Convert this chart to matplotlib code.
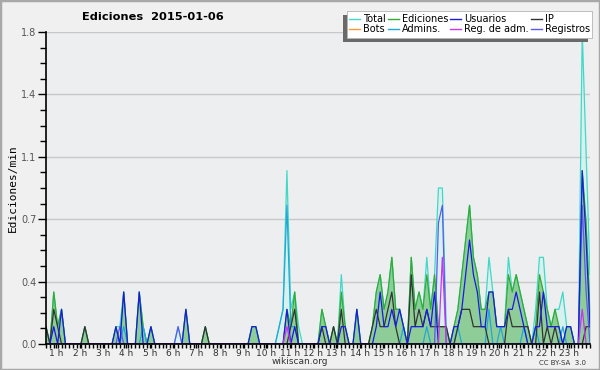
import numpy as np
import matplotlib
matplotlib.use("Agg")
import matplotlib.pyplot as plt
from matplotlib.patches import Rectangle


# DATA (edits per minute, 10-minute bins, first bin ~00:33)

t_start = 0.55
step_h = 1 / 6

total = [0.1, 0, 0.3, 0.1, 0.2, 0, 0, 0, 0, 0,
         0.1, 0, 0, 0, 0, 0, 0, 0, 0.1, 0.1,
         0.3, 0, 0, 0, 0.3, 0.1, 0, 0.1, 0, 0,
         0, 0, 0, 0, 0.1, 0, 0.2, 0, 0, 0,
         0, 0.1, 0, 0, 0, 0, 0, 0, 0, 0,
         0, 0, 0, 0.1, 0.1, 0, 0, 0, 0, 0,
         0.1, 0.2, 1.0, 0.2, 0.3, 0.1, 0, 0, 0, 0,
         0, 0.2, 0.1, 0, 0.1, 0, 0.4, 0.1, 0, 0,
         0.2, 0, 0, 0, 0.1, 0.3, 0.4, 0.2, 0.3, 0.5,
         0.2, 0.2, 0.1, 0, 0.5, 0.2, 0.3, 0.2, 0.5, 0.2,
         0.4, 0.9, 0.9, 0.1, 0, 0.1, 0.2, 0.4, 0.6, 0.8,
         0.5, 0.4, 0.2, 0.2, 0.5, 0.3, 0.1, 0.1, 0.1, 0.5,
         0.3, 0.4, 0.3, 0.2, 0.1, 0, 0.2, 0.5, 0.5, 0.2,
         0.1, 0.2, 0.2, 0.3, 0.1, 0.1, 0, 0, 1.8, 1.1,
         0.4]

ediciones = [0.1, 0, 0.3, 0.1, 0.2, 0, 0, 0, 0, 0,
             0.1, 0, 0, 0, 0, 0, 0, 0, 0.1, 0,
             0.3, 0, 0, 0, 0.3, 0.1, 0, 0.1, 0, 0,
             0, 0, 0, 0, 0, 0, 0.2, 0, 0, 0,
             0, 0.1, 0, 0, 0, 0, 0, 0, 0, 0,
             0, 0, 0, 0.1, 0.1, 0, 0, 0, 0, 0,
             0, 0, 0.2, 0.1, 0.3, 0, 0, 0, 0, 0,
             0, 0.2, 0.1, 0, 0.1, 0, 0.3, 0.1, 0, 0,
             0.2, 0, 0, 0, 0.1, 0.3, 0.4, 0.2, 0.3, 0.5,
             0.2, 0.2, 0.1, 0, 0.5, 0.2, 0.3, 0.2, 0.4, 0.2,
             0.4, 0.1, 0.1, 0.1, 0, 0.1, 0.2, 0.4, 0.6, 0.8,
             0.5, 0.4, 0.2, 0.2, 0.3, 0.3, 0.1, 0.1, 0.1, 0.4,
             0.3, 0.4, 0.3, 0.2, 0.1, 0, 0.1, 0.4, 0.3, 0.2,
             0.1, 0.2, 0.1, 0, 0.1, 0.1, 0, 0, 1.0, 0.7,
             0.2]

usuarios = [0, 0, 0.1, 0, 0.2, 0, 0, 0, 0, 0,
            0, 0, 0, 0, 0, 0, 0, 0, 0.1, 0,
            0.3, 0, 0, 0, 0.3, 0, 0, 0.1, 0, 0,
            0, 0, 0, 0, 0, 0, 0.2, 0, 0, 0,
            0, 0, 0, 0, 0, 0, 0, 0, 0, 0,
            0, 0, 0, 0.1, 0.1, 0, 0, 0, 0, 0,
            0, 0, 0.2, 0, 0.1, 0, 0, 0, 0, 0,
            0, 0.1, 0.1, 0, 0, 0, 0.1, 0.1, 0, 0,
            0.2, 0, 0, 0, 0, 0.1, 0.3, 0.1, 0.1, 0.2,
            0.1, 0.2, 0.1, 0, 0.1, 0.1, 0.1, 0.1, 0.2, 0.1,
            0.3, 0, 0, 0, 0, 0.1, 0.1, 0.2, 0.4, 0.6,
            0.4, 0.3, 0.1, 0.1, 0.3, 0.3, 0.1, 0.1, 0.1, 0.2,
            0.2, 0.3, 0.2, 0.1, 0, 0, 0.1, 0.1, 0.3, 0.1,
            0.1, 0.1, 0.1, 0, 0.1, 0.1, 0, 0, 1.0, 0.6,
            0.1]

ip = [0.1, 0, 0.2, 0.1, 0, 0, 0, 0, 0, 0,
      0.1, 0, 0, 0, 0, 0, 0, 0, 0, 0,
      0, 0, 0, 0, 0, 0, 0, 0, 0, 0,
      0, 0, 0, 0, 0, 0, 0, 0, 0, 0,
      0, 0.1, 0, 0, 0, 0, 0, 0, 0, 0,
      0, 0, 0, 0, 0, 0, 0, 0, 0, 0,
      0, 0, 0, 0.1, 0.2, 0, 0, 0, 0, 0,
      0, 0.1, 0, 0, 0.1, 0, 0.2, 0, 0, 0,
      0, 0, 0, 0, 0.1, 0.2, 0.1, 0.1, 0.2, 0.3,
      0.1, 0, 0, 0, 0.4, 0.1, 0.2, 0.1, 0.2, 0.1,
      0.1, 0.1, 0.1, 0.1, 0, 0, 0.1, 0.2, 0.2, 0.2,
      0.1, 0.1, 0.1, 0.1, 0, 0, 0, 0, 0, 0.2,
      0.1, 0.1, 0.1, 0.1, 0.1, 0, 0, 0.3, 0, 0.1,
      0, 0.1, 0, 0, 0, 0, 0, 0, 0, 0.1,
      0.1]

admins = [0, 0, 0, 0, 0, 0, 0, 0, 0, 0,
          0, 0, 0, 0, 0, 0, 0, 0, 0, 0,
          0.1, 0, 0, 0, 0, 0.1, 0, 0, 0, 0,
          0, 0, 0, 0, 0, 0, 0, 0, 0, 0,
          0, 0, 0, 0, 0, 0, 0, 0, 0, 0,
          0, 0, 0, 0, 0, 0, 0, 0, 0, 0,
          0.1, 0.2, 0.8, 0.1, 0.1, 0, 0, 0, 0, 0,
          0, 0, 0, 0, 0, 0, 0, 0, 0, 0,
          0, 0, 0, 0, 0, 0, 0, 0, 0, 0,
          0, 0, 0.1, 0, 0, 0, 0, 0, 0.1, 0,
          0, 0, 0, 0, 0, 0, 0.1, 0, 0, 0,
          0, 0, 0, 0, 0.2, 0, 0, 0.1, 0, 0,
          0, 0, 0, 0.1, 0, 0, 0.1, 0, 0, 0,
          0, 0, 0, 0.1, 0, 0, 0, 0, 0, 0,
          0]

registros = [0, 0, 0, 0, 0, 0, 0, 0, 0, 0,
             0, 0, 0, 0, 0, 0, 0, 0, 0, 0.1,
             0, 0, 0, 0, 0, 0, 0, 0, 0, 0,
             0, 0, 0, 0, 0.1, 0, 0, 0, 0, 0,
             0, 0, 0, 0, 0, 0, 0, 0, 0, 0,
             0, 0, 0, 0, 0, 0, 0, 0, 0, 0,
             0, 0, 0, 0, 0, 0, 0, 0, 0, 0,
             0, 0, 0, 0, 0, 0, 0, 0, 0, 0,
             0, 0, 0, 0, 0, 0, 0, 0, 0, 0,
             0, 0, 0, 0, 0, 0, 0, 0, 0, 0,
             0, 0.7, 0.8, 0, 0, 0, 0, 0, 0, 0,
             0, 0, 0, 0, 0, 0, 0, 0, 0, 0,
             0, 0, 0, 0, 0, 0, 0, 0, 0, 0,
             0, 0, 0, 0, 0, 0, 0, 0, 0.8, 0.3,
             0]

reg_adm = [0] * 62 + [0.1] + [0] * 39 + [0.5] + [0] * 35 + [0.2] + [0] * 2
bots = [0] * 141

hour_labels = [f"{h} h" for h in range(1, 24)]

t = t_start + step_h * np.arange(len(total))

# PLOT

plt.rcParams['font.family'] = ['DejaVu Sans']

fig = plt.figure(figsize=(6, 3.7), dpi=100, facecolor='#f0f0f0')
fig.patches.append(Rectangle((0, 0), 1, 1, transform=fig.transFigure,
                             fill=False, edgecolor='#a8a8a8', linewidth=2.5))

ax = fig.add_axes([46/600, 26/370, 544/600, 312/370])
ax.set_facecolor('#edeef0')

lw = 0.9
ax.fill_between(t, total, color='#d4f2ee', alpha=0.8, lw=0)
ax.plot(t, total, color='#40d8c8', lw=lw, label='Total')
ax.fill_between(t, ediciones, color='#5fb55f', alpha=0.6, lw=0)
ax.plot(t, ediciones, color='#33aa33', lw=lw, label='Ediciones')
ax.plot(t, admins, color='#1fa8d8', lw=lw, label='Admins.')
ax.plot(t, ip, color='#333333', lw=lw, label='IP')
ax.plot(t, registros, color='#5a5af0', lw=lw, label='Registros')
ax.plot(t, usuarios, color='#1a1ae0', lw=lw, label='Usuarios')
ax.plot(t, reg_adm, color='#cc33ee', lw=lw, label='Reg. de adm.')
ax.plot(t, bots, color='#ff9933', lw=0, label='Bots')

ax.set_xlim(t[0], t[-1])
ax.set_ylim(0, 1.8)

yt = [0, 0.36, 0.72, 1.08, 1.44, 1.8]
ax.set_yticks(yt)
ax.set_yticklabels(['0.0', '0.4', '0.7', '1.1', '1.4', '1.8'])
ax.set_yticks(np.arange(0, 1.8, 0.09), minor=True)
ax.yaxis.grid(True, color='#c8c8c8', lw=1)
ax.set_axisbelow(True)

ax.set_xticks(range(1, 24))
ax.set_xticklabels(hour_labels)
ax.set_xticks(t, minor=True)

ax.tick_params(axis='y', which='major', length=6, width=1, labelsize=7,
               labelcolor='#555555', pad=1)
ax.tick_params(axis='y', which='minor', length=4, width=1)
ax.tick_params(axis='x', which='major', length=3, width=1, labelsize=6.5,
               labelcolor='#333333', pad=0.5)
ax.tick_params(axis='x', which='minor', length=3, width=1)

for s in ['top', 'right']:
    ax.spines[s].set_visible(False)
ax.spines['left'].set_linewidth(1.2)
ax.spines['bottom'].set_linewidth(1.2)

ax.set_ylabel('Ediciones/min', family='DejaVu Sans Mono', fontsize=8, labelpad=2)

fig.text(153/600, 1 - 17/370, 'Ediciones  2015-01-06', ha='center', va='center',
         fontsize=8.2, fontweight='bold')
fig.text(300/600, 1 - 362/370, 'wikiscan.org', ha='center', va='center',
         fontsize=6.5, color='#333333')
fig.text(586/600, 1 - 363/370, 'CC BY-SA  3.0', ha='right', va='center',
         fontsize=5, color='#333333')

# legend box (drawn by hand, with dark shadow below-left)
box_x0, box_x1 = 347, 592
box_top, box_bot = 11, 38
W, H = 600, 370
fig.patches.append(Rectangle(((box_x0 - 4) / W, 1 - (box_bot + 4) / H),
                             (box_x1 - box_x0) / W, (box_bot - box_top) / H,
                             transform=fig.transFigure, facecolor='#6a6a6a',
                             edgecolor='none', zorder=4))
fig.patches.append(Rectangle((box_x0 / W, 1 - box_bot / H),
                             (box_x1 - box_x0) / W, (box_bot - box_top) / H,
                             transform=fig.transFigure, facecolor='white',
                             edgecolor='#b4b4b4', linewidth=0.6, zorder=4.5))

h = {l.get_label(): l for l in ax.get_lines()}
bots_h = plt.Line2D([], [], color='#ff9933', lw=1)
order = ['Total', 'Bots', 'Ediciones', 'Admins.', 'Usuarios', 'Reg. de adm.',
         'IP', 'Registros']
handles = [bots_h if k == 'Bots' else h[k] for k in order]
leg = fig.legend(handles, order, ncol=4, loc='center',
                 bbox_to_anchor=((box_x0 + box_x1) / 2 / W,
                                 1 - (box_top + box_bot) / 2 / H),
                 fontsize=7, frameon=False, borderpad=0,
                 handlelength=1.1, handletextpad=0.3, columnspacing=0.25,
                 labelspacing=0.0, borderaxespad=0)
leg.set_zorder(5)
for line in leg.get_lines():
    line.set_linewidth(1)

fig.savefig('out.png', dpi=100, facecolor=fig.get_facecolor())
